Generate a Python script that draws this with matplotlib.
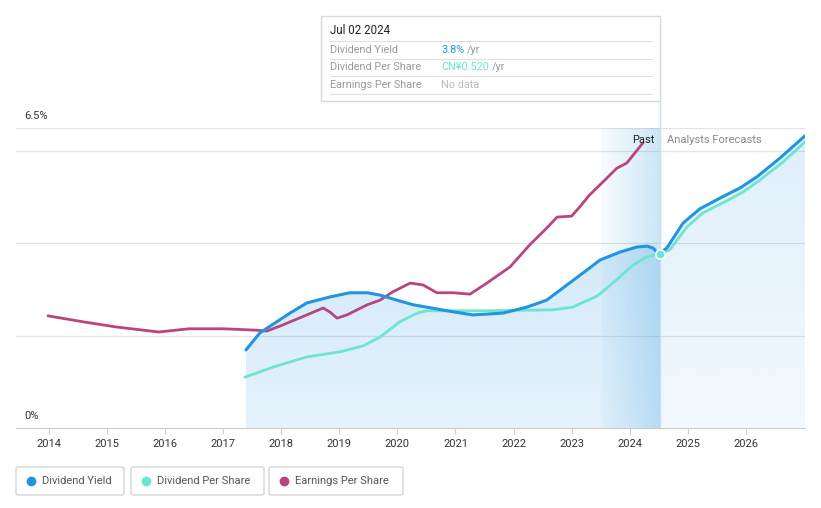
import matplotlib.pyplot as plt
import numpy as np
from matplotlib.patches import Rectangle, FancyBboxPatch
from matplotlib.colors import to_rgb

plt.rcParams["font.family"] = ["Roboto", "DejaVu Sans"]

# data (x in fractional years, y in %)
yield_x = [2017.39, 2017.63, 2018.15, 2018.44, 2018.84, 2019.18, 2019.48, 2019.70, 2019.99, 2020.27,
           2020.68, 2020.85, 2021.30, 2021.82, 2022.23, 2022.57, 2022.92, 2023.26, 2023.49, 2023.83,
           2024.12, 2024.30, 2024.40, 2024.49, 2024.52]
yield_y = [1.69, 2.06, 2.49, 2.71, 2.84, 2.93, 2.93, 2.88, 2.77, 2.67,
           2.58, 2.54, 2.45, 2.49, 2.62, 2.77, 3.10, 3.42, 3.64, 3.81,
           3.92, 3.94, 3.90, 3.79, 3.79]
yield_fx = [2024.52, 2024.64, 2024.92, 2025.21, 2025.60, 2025.90, 2026.19, 2026.59, 2027.02]
yield_fy = [3.79, 3.90, 4.44, 4.75, 5.01, 5.20, 5.44, 5.85, 6.33]

dps_x = [2017.37, 2017.86, 2018.44, 2019.01, 2019.41, 2019.70, 2020.04, 2020.34, 2020.51, 2020.73,
         2021.54, 2022.68, 2023.02, 2023.44, 2023.71, 2024.06, 2024.30, 2024.49, 2024.52]
dps_y = [1.10, 1.32, 1.54, 1.65, 1.78, 1.97, 2.30, 2.49, 2.54, 2.54,
         2.54, 2.56, 2.62, 2.86, 3.14, 3.53, 3.71, 3.77, 3.77]
dps_fx = [2024.52, 2024.69, 2024.99, 2025.26, 2025.67, 2025.95, 2026.24, 2026.64, 2027.02]
dps_fy = [3.77, 3.86, 4.36, 4.66, 4.92, 5.11, 5.37, 5.76, 6.20]

eps_x = [2013.98, 2014.59, 2015.15, 2015.89, 2016.41, 2017.00, 2017.56, 2017.75, 2017.98, 2018.44,
         2018.72, 2018.84, 2018.96, 2019.13, 2019.48, 2019.70, 2019.92, 2020.22, 2020.44, 2020.68,
         2020.96, 2021.25, 2021.54, 2021.94, 2022.28, 2022.57, 2022.75, 2023.00, 2023.14, 2023.31,
         2023.49, 2023.78, 2023.95, 2024.23]
eps_y = [2.43, 2.30, 2.19, 2.08, 2.15, 2.15, 2.12, 2.10, 2.21, 2.45,
         2.60, 2.51, 2.38, 2.45, 2.67, 2.77, 2.95, 3.14, 3.10, 2.93,
         2.93, 2.90, 3.14, 3.49, 3.97, 4.33, 4.57, 4.59, 4.79, 5.05,
         5.27, 5.63, 5.74, 6.18]

years = list(range(2014, 2027))
now = 2024.52
past_start = 2023.5

BLUE = "#2394df"
TEAL = "#6ce5d2"
PINK = "#b9457f"

W, H = 821, 508
fig = plt.figure(figsize=(W / 100, H / 100), dpi=100)
ax = fig.add_axes([16 / W, 1 - 428 / H, (805 - 16) / W, 300 / H])
ax.set_xlim(2013.43, 2027.02)
ax.set_ylim(0, 6.5)

# gridlines
for g in [2, 4, 6, 6.5]:
    ax.axhline(g, color="#e4e4e4", lw=0.9, zorder=0)

# fill under dividend yield with a vertical gradient
fx = np.array(yield_x + yield_fx[1:])
fy = np.array(yield_y + yield_fy[1:])
poly = ax.fill_between(fx, fy, 0, color="none", lw=0)
grad = np.zeros((100, 2, 4))
grad[:, :, :3] = to_rgb(BLUE)
grad[:, :, 3] = np.linspace(0.12, 0.25, 100)[:, None]
im = ax.imshow(grad, extent=[fx[0], now, 0, 6.5], origin="lower", aspect="auto", zorder=1)
im.set_clip_path(poly.get_paths()[0], transform=ax.transData)
grad2 = grad.copy()
grad2[:, :, 3] = np.linspace(0.06, 0.15, 100)[:, None]
im2 = ax.imshow(grad2, extent=[now, fx[-1], 0, 6.5], origin="lower", aspect="auto", zorder=1)
im2.set_clip_path(poly.get_paths()[0], transform=ax.transData)

# past band (horizontal gradient)
band = np.zeros((2, 100, 4))
band[:, :, :3] = to_rgb(BLUE)
band[:, :, 3] = np.linspace(0.03, 0.24, 100)[None, :]
ax.imshow(band, extent=[past_start, now, 0, 6.5], origin="lower", aspect="auto", zorder=1)

# lines
ax.plot(eps_x, eps_y, color=PINK, lw=2.0, zorder=3, solid_capstyle="round", solid_joinstyle="round")
ax.plot(dps_x, dps_y, color=TEAL, lw=2.0, zorder=4, solid_capstyle="round", solid_joinstyle="round")
ax.plot(dps_fx, dps_fy, color=TEAL, lw=2.0, zorder=4, solid_capstyle="round", solid_joinstyle="round")
ax.plot(yield_x, yield_y, color=BLUE, lw=2.2, zorder=5, solid_capstyle="round", solid_joinstyle="round")
ax.plot(yield_fx, yield_fy, color=BLUE, lw=2.2, zorder=5, solid_capstyle="round", solid_joinstyle="round")

# now line and marker
ax.plot([now, now], [0, 7.09], color="#c4dff4", lw=1, clip_on=False, zorder=2)
ax.scatter([now], [dps_y[-1]], s=45, color=TEAL, edgecolor="white", lw=1.2, zorder=6)

ax.text(now - 0.1, 6.23, "Past", ha="right", va="center", fontsize=8, color="#222222")
ax.text(now + 0.13, 6.23, "Analysts Forecasts", ha="left", va="center", fontsize=8, color="#888888")

# axes styling
for s in ["top", "right", "left"]:
    ax.spines[s].set_visible(False)
ax.spines["bottom"].set_color("#cccccc")
ax.set_yticks([])
ax.set_xticks(years)
ax.set_xticklabels([str(y) for y in years], fontsize=8, color="#333333")
ax.tick_params(axis="x", length=4, color="#cccccc", pad=4)
ax.text(24 / W, 1 - 116 / H, "6.5%", transform=fig.transFigure, fontsize=8, color="#333333", va="center")
ax.text(24 / W, 1 - 416 / H, "0%", transform=fig.transFigure, fontsize=8, color="#333333", va="center")

# tooltip
def fx_(x):
    return x / W

def fy_(y):
    return 1 - y / H

fig.patches.append(Rectangle((fx_(321), fy_(101)), 339 / W, 85 / H, transform=fig.transFigure,
                             facecolor="white", edgecolor="#d8d8d8", lw=1, zorder=10))
fig.text(fx_(330), fy_(31), "Jul 02 2024", fontsize=8.3, color="#222222", va="center", zorder=11)
rows = [("Dividend Yield", "3.8%", BLUE, 50), ("Dividend Per Share", "CN¥0.520", TEAL, 67),
        ("Earnings Per Share", "No data", "#bbbbbb", 85)]
for lab, val, col, y in rows:
    fig.text(fx_(330), fy_(y), lab, fontsize=7.8, color="#999999", va="center", zorder=11)
    t = fig.text(fx_(441), fy_(y), val, fontsize=7.8, color=col, va="center", zorder=11)
    if val != "No data":
        fig.canvas.draw()
        bb = t.get_window_extent()
        fig.text(bb.x1 / W + 3 / W, fy_(y), "/yr", fontsize=7.8, color="#999999", va="center", zorder=11)
for y in [41, 59, 76, 94]:
    fig.add_artist(plt.Line2D([fx_(330), fx_(652)], [fy_(y), fy_(y)], color="#e0e0e0", lw=0.8,
                              transform=fig.transFigure, zorder=11))

# legend boxes
legend = [("Dividend Yield", BLUE, 16, 124), ("Dividend Per Share", TEAL, 131, 264),
          ("Earnings Per Share", PINK, 269, 403)]
for lab, col, x0, x1 in legend:
    fig.patches.append(FancyBboxPatch((fx_(x0), fy_(495)), (x1 - x0) / W, 28 / H,
                                      boxstyle="round,pad=0,rounding_size=0.003",
                                      transform=fig.transFigure, facecolor="white",
                                      edgecolor="#d5d5d5", lw=1))
    fig.add_artist(plt.Line2D([fx_(x0 + 15)], [fy_(481)], marker="o", markersize=6, color=col,
                              transform=fig.transFigure))
    fig.text(fx_(x0 + 26), fy_(481), lab, fontsize=8, color="#555555", va="center")

fig.savefig("out.png", dpi=100)
